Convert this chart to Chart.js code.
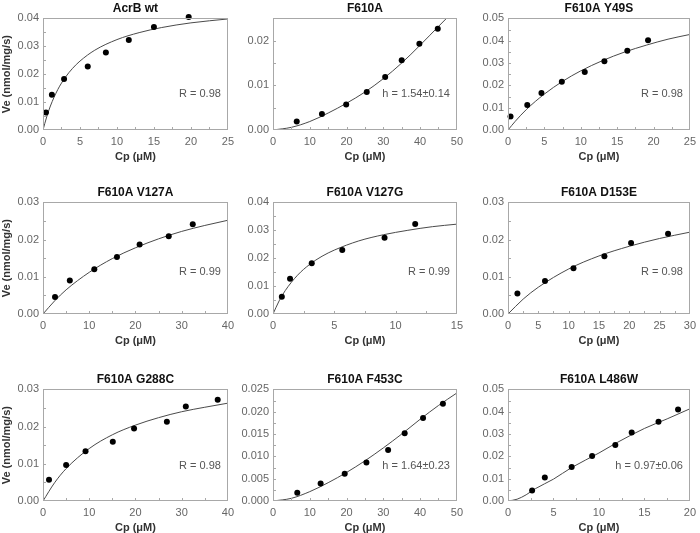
<!DOCTYPE html>
<html>
<head>
<meta charset="utf-8">
<script src="https://cdn.jsdelivr.net/npm/chart.js@4.4.0/dist/chart.umd.min.js"></script>
<style>
body{margin:0;background:#fff;width:700px;height:533px;overflow:hidden;position:relative}
</style>
</head>
<body>
<script>
const titulos = ['AcrB wt', 'F610A', 'F610A Y49S', 'F610A V127A', 'F610A V127G', 'F610A D153E', 'F610A G288C', 'F610A F453C', 'F610A L486W']
const notas = ['R = 0.98', 'h = 1.54±0.14', 'R = 0.98', 'R = 0.99', 'R = 0.99', 'R = 0.98', 'R = 0.98', 'h = 1.64±0.23', 'h = 0.97±0.06']

/* puntos medidos (Cp, Ve) */
const wtX = [0.4, 1.2, 2.85, 6.05, 8.5, 11.6, 15.0, 19.7]
const wtY = [0.0063, 0.0126, 0.0183, 0.0228, 0.0278, 0.0323, 0.0369, 0.0405]
const f610X = [6.45, 13.3, 19.9, 25.5, 30.5, 35.0, 39.8, 44.8]
const f610Y = [0.0019, 0.0036, 0.0057, 0.0085, 0.0119, 0.0156, 0.0193, 0.0227]
const y49sX = [0.35, 2.65, 4.6, 7.4, 10.55, 13.25, 16.4, 19.25]
const y49sY = [0.0061, 0.0112, 0.0166, 0.0216, 0.026, 0.0308, 0.0355, 0.0402]
const v127aX = [2.6, 5.8, 11.1, 16.0, 20.9, 27.2, 32.4]
const v127aY = [0.0046, 0.0090, 0.0120, 0.0153, 0.0187, 0.0209, 0.0241]
const v127gX = [0.72, 1.39, 3.16, 5.65, 9.1, 11.6]
const v127gY = [0.0062, 0.0126, 0.0182, 0.0229, 0.0273, 0.0323]
const d153eX = [1.55, 6.1, 10.8, 15.9, 20.3, 26.4]
const d153eY = [0.0055, 0.0089, 0.0123, 0.0155, 0.0191, 0.0216]
const g288cX = [1.3, 5.0, 9.2, 15.1, 19.7, 26.8, 30.9, 37.8]
const g288cY = [0.0057, 0.0097, 0.0134, 0.0159, 0.0195, 0.0213, 0.0254, 0.0272]
const f453cX = [6.6, 12.95, 19.5, 25.4, 31.3, 35.8, 40.8, 46.2]
const f453cY = [0.00185, 0.0039, 0.0061, 0.0086, 0.0114, 0.0152, 0.0186, 0.0218]
const l486wX = [2.65, 4.05, 7.0, 9.25, 11.8, 13.6, 16.55, 18.7]
const l486wY = [0.0047, 0.0105, 0.0152, 0.0202, 0.0251, 0.0307, 0.0355, 0.041]

/* curvas de ajuste */
const wtCurvaX = [0, 0.5, 1, 2, 3, 4, 5, 7, 10, 13, 16, 20, 25]
const wtCurvaY = [0, 0.0047, 0.0086, 0.0145, 0.0188, 0.0221, 0.0247, 0.0286, 0.0324, 0.0349, 0.0367, 0.0384, 0.0398]
const f610CurvaX = [0, 5, 10, 15, 20, 25, 30, 35, 40, 45, 48]
const f610CurvaY = [0, 0.0006, 0.0019, 0.0038, 0.0060, 0.0085, 0.0115, 0.0150, 0.0190, 0.0232, 0.0257]
const y49sCurvaX = [0, 1, 2.5, 5, 7.5, 10, 13, 16, 19, 22, 25]
const y49sCurvaY = [0, 0.0039, 0.0091, 0.0161, 0.0218, 0.0265, 0.0311, 0.0349, 0.038, 0.0407, 0.0428]
const v127aCurvaX = [0, 2.5, 5, 10, 15, 20, 25, 30, 35, 40]
const v127aCurvaY = [0, 0.0035, 0.0065, 0.0112, 0.0149, 0.0178, 0.0202, 0.0222, 0.0238, 0.0252]
const v127gCurvaX = [0, 0.5, 1, 2, 3, 4, 5, 7, 9, 11, 13, 15]
const v127gCurvaY = [0, 0.0047, 0.0084, 0.0139, 0.0178, 0.0207, 0.0229, 0.0262, 0.0284, 0.03, 0.0313, 0.0322]
const d153eCurvaX = [0, 2.5, 5, 10, 15, 20, 25, 30]
const d153eCurvaY = [0, 0.0040, 0.0072, 0.0121, 0.0156, 0.0182, 0.0203, 0.0220]
const g288cCurvaX = [0, 2.5, 5, 10, 15, 20, 25, 30, 35, 40]
const g288cCurvaY = [0, 0.0049, 0.0087, 0.0141, 0.0178, 0.0204, 0.0224, 0.024, 0.0252, 0.0263]
const f453cCurvaX = [0, 5, 10, 15, 20, 25, 30, 35, 40, 45, 50]
const f453cCurvaY = [0, 0.0006, 0.0021, 0.0041, 0.0064, 0.0090, 0.0119, 0.0150, 0.0183, 0.0214, 0.0242]
const l486wCurvaX = [0, 1, 2, 3, 5, 7, 10, 12, 15, 17.5, 20]
const l486wCurvaY = [0, 0.0008, 0.0028, 0.0055, 0.0098, 0.0150, 0.0215, 0.0262, 0.0325, 0.0368, 0.0413]

/* etiquetas de los ejes */
const ticksX25 = [0, 5, 10, 15, 20, 25]
const ticksX50 = [0, 10, 20, 30, 40, 50]
const ticksX40 = [0, 10, 20, 30, 40]
const ticksX15 = [0, 5, 10, 15]
const ticksX30 = [0, 5, 10, 15, 20, 25, 30]
const ticksX20 = [0, 5, 10, 15, 20]
const ticksY04 = [0, 0.01, 0.02, 0.03, 0.04]
const ticksY02 = [0, 0.01, 0.02]
const ticksY05 = [0, 0.01, 0.02, 0.03, 0.04, 0.05]
const ticksY03 = [0, 0.01, 0.02, 0.03]
const ticksY025 = [0, 0.005, 0.01, 0.015, 0.02, 0.025]

const paneles = [
    {px: wtX, py: wtY, cx: wtCurvaX, cy: wtCurvaY, tx: ticksX25, ty: ticksY04, ymax: 0.04, dec: 2},
    {px: f610X, py: f610Y, cx: f610CurvaX, cy: f610CurvaY, tx: ticksX50, ty: ticksY02, ymax: 0.025, dec: 2},
    {px: y49sX, py: y49sY, cx: y49sCurvaX, cy: y49sCurvaY, tx: ticksX25, ty: ticksY05, ymax: 0.05, dec: 2},
    {px: v127aX, py: v127aY, cx: v127aCurvaX, cy: v127aCurvaY, tx: ticksX40, ty: ticksY03, ymax: 0.03, dec: 2},
    {px: v127gX, py: v127gY, cx: v127gCurvaX, cy: v127gCurvaY, tx: ticksX15, ty: ticksY04, ymax: 0.04, dec: 2},
    {px: d153eX, py: d153eY, cx: d153eCurvaX, cy: d153eCurvaY, tx: ticksX30, ty: ticksY03, ymax: 0.03, dec: 2},
    {px: g288cX, py: g288cY, cx: g288cCurvaX, cy: g288cCurvaY, tx: ticksX40, ty: ticksY03, ymax: 0.03, dec: 2},
    {px: f453cX, py: f453cY, cx: f453cCurvaX, cy: f453cCurvaY, tx: ticksX50, ty: ticksY025, ymax: 0.025, dec: 3},
    {px: l486wX, py: l486wY, cx: l486wCurvaX, cy: l486wCurvaY, tx: ticksX20, ty: ticksY05, ymax: 0.05, dec: 2}
]

/* ubicacion de cada panel */
const colIzq = [0, 236, 470]
const anchoEjeY = [43, 37, 38]
const plotDer = [231, 460, 693]
const filaTop = [0, 184, 371]
const notaFrac = [0.68, 0.625, 0.685]

const fuente = '"Liberation Sans", Arial, sans-serif'
Chart.defaults.font.family = fuente

function pares(xs, ys) {
    return xs.map((x, i) => ({x: x, y: ys[i]}))
}

/* marco gris, marcas internas y texto R / h */
const marco = {
    id: 'marco',
    afterDraw(chart, args, o) {
        const ctx = chart.ctx
        const a = chart.chartArea
        const sx = chart.scales.x
        const sy = chart.scales.y
        ctx.save()
        ctx.strokeStyle = '#a8a8a8'
        ctx.lineWidth = 1
        ctx.strokeRect(Math.round(a.left) + 0.5, Math.round(a.top) + 0.5, Math.round(a.width) - 1, Math.round(a.height) - 1)
        ctx.beginPath()
        const pasoX = (o.tx[1] - o.tx[0]) / 2
        for (let v = pasoX; v < sx.max - 1e-9; v += pasoX) {
            const p = Math.round(sx.getPixelForValue(v)) + 0.5
            ctx.moveTo(p, a.bottom)
            ctx.lineTo(p, a.bottom - 3)
        }
        const pasoY = (o.ty[1] - o.ty[0]) / 2
        for (let v = pasoY; v < sy.max - 1e-9; v += pasoY) {
            const p = Math.round(sy.getPixelForValue(v)) + 0.5
            ctx.moveTo(a.left, p)
            ctx.lineTo(a.left + 3, p)
        }
        ctx.stroke()
        ctx.fillStyle = '#555'
        ctx.font = '11px ' + fuente
        ctx.textAlign = 'right'
        ctx.textBaseline = 'middle'
        ctx.fillText(o.nota, a.right - 7, a.top + a.height * o.frac)
        ctx.restore()
    }
}

function grafico(i) {
    const p = paneles[i]
    const col = i % 3
    const fila = Math.floor(i / 3)

    const caja = document.createElement('div')
    caja.style.position = 'absolute'
    caja.style.left = colIzq[col] + 'px'
    caja.style.top = filaTop[fila] + 'px'
    caja.style.width = (plotDer[col] + 8 - colIzq[col]) + 'px'
    caja.style.height = '168px'
    const ctx = document.createElement('canvas')
    caja.appendChild(ctx)
    document.body.appendChild(caja)

    new Chart(ctx, {
        type: 'scatter',
        data: {
            datasets: [{
                data: pares(p.px, p.py),
                backgroundColor: '#000',
                borderWidth: 0,
                pointRadius: 3,
                showLine: false,
                clip: false,
                order: 1
            },
            {
                data: pares(p.cx, p.cy),
                borderColor: '#4a4a4a',
                borderWidth: 1,
                pointRadius: 0,
                showLine: true,
                cubicInterpolationMode: 'monotone',
                order: 2
            }]
        },
        options: {
            responsive: true,
            maintainAspectRatio: false,
            animation: false,
            events: [],
            layout: {padding: {left: 0, right: 8, top: 0, bottom: 0}},
            plugins: {
                legend: {display: false},
                tooltip: {enabled: false},
                title: {
                    display: true,
                    text: titulos[i],
                    fullSize: false,
                    color: '#111',
                    font: {size: 12, weight: 'bold'},
                    padding: {top: 1, bottom: 3}
                },
                marco: {tx: p.tx, ty: p.ty, nota: notas[i], frac: notaFrac[fila]}
            },
            scales: {
                x: {
                    type: 'linear',
                    min: 0,
                    max: p.tx[p.tx.length - 1],
                    afterBuildTicks: s => { s.ticks = p.tx.map(v => ({value: v})) },
                    afterFit: s => { s.height = 38 },
                    grid: {display: false, drawTicks: false},
                    border: {display: false},
                    ticks: {color: '#666', font: {size: 11}, padding: 5, maxRotation: 0, callback: v => v},
                    title: {display: true, text: 'Cp (μM)', color: '#333', font: {size: 11, weight: 'bold'}, padding: {top: 0, bottom: 4}}
                },
                y: {
                    type: 'linear',
                    min: 0,
                    max: p.ymax,
                    afterBuildTicks: s => { s.ticks = p.ty.map(v => ({value: v})) },
                    afterFit: s => { s.width = anchoEjeY[col] },
                    grid: {display: false, drawTicks: false},
                    border: {display: false},
                    ticks: {color: '#666', font: {size: 11}, padding: 4, callback: v => v.toFixed(p.dec)},
                    title: {display: col === 0, text: 'Ve (nmol/mg/s)', color: '#333', font: {size: 11, weight: 'bold'}, padding: {top: 0, bottom: 0}}
                }
            }
        },
        plugins: [marco]
    })
}

for (let i = 0; i < paneles.length; i++) {
    grafico(i)
}
</script>
</body>
</html>
